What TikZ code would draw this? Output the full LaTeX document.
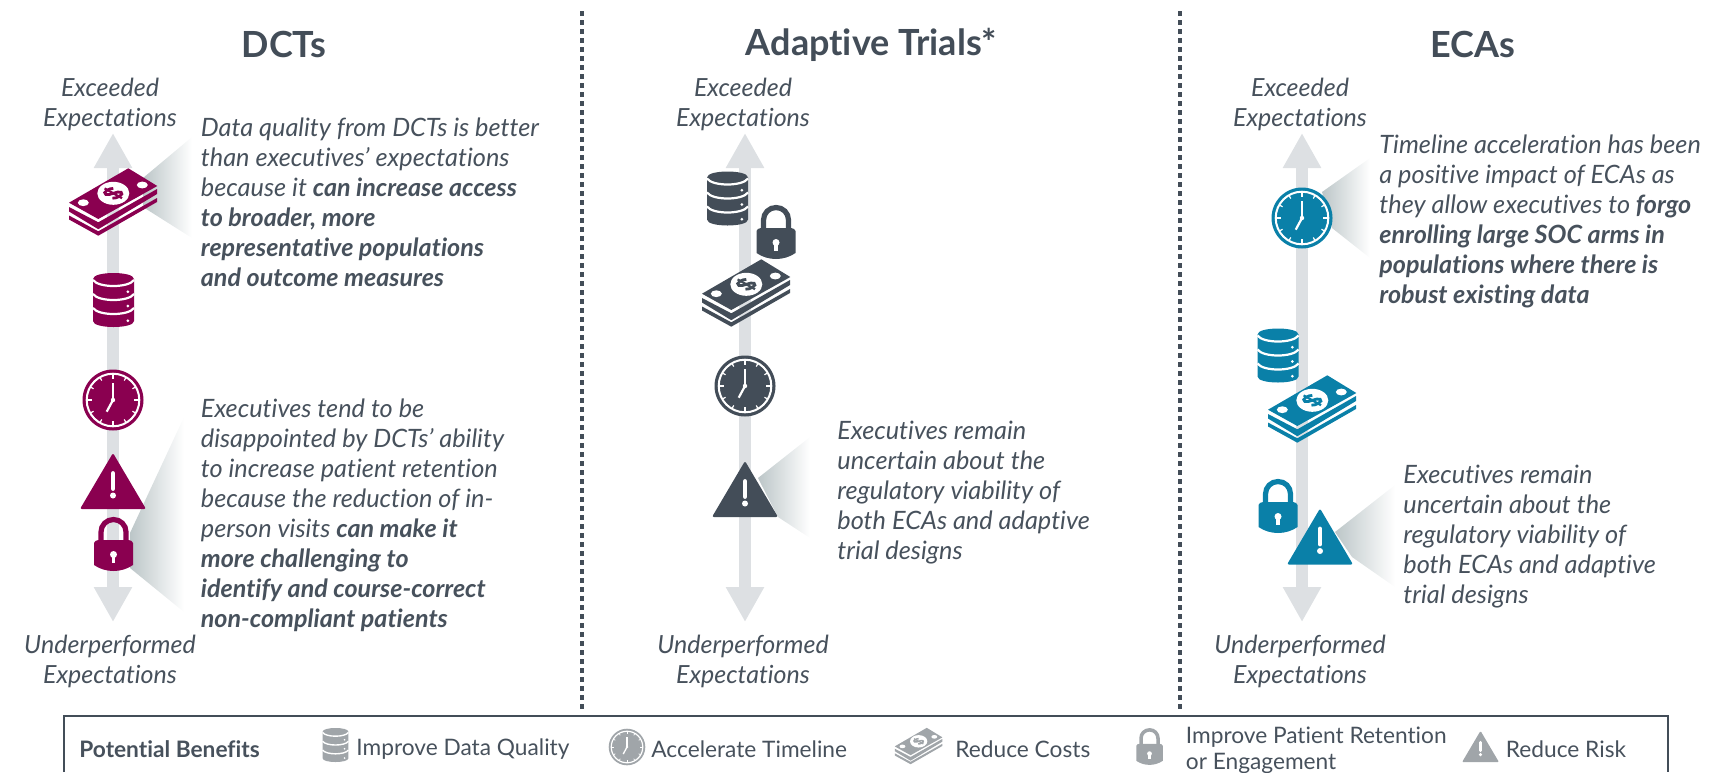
\documentclass[tikz,border=0pt]{standalone}
\usepackage{fontspec}
\setmainfont{Lato}[Ligatures={NoCommon}]
\usetikzlibrary{arrows.meta}
\definecolor{dctc}{HTML}{8A0050}
\definecolor{adac}{HTML}{434D58}
\definecolor{ecac}{HTML}{0A80A8}
\definecolor{legc}{HTML}{A0A5A9}
\definecolor{axisc}{HTML}{DDE0E3}
\definecolor{txtc}{HTML}{47515C}
\definecolor{wedgec}{HTML}{BCC6C8}
\newcommand{\bt}[1]{{\fontsize{12.55}{15}\bfseries\selectfont #1}}
\newcommand{\moneyicon}[4]{\begin{scope}[shift={(#1,#2)},scale=#3]
 \fill[#4] (15.3,-33.7)--(44.3,-16)--(-14.7,17)--(-44,0.7)--cycle;
 \fill[#4] (-44,5)--(-14.7,20.3)--(44,-13)--(44,-8)--(-14.7,27.2)--(-44,9.5)--cycle;
 \fill[#4] (-44,13.5)--(-14.7,29.3)--(44,-4)--(44,0)--(-14.7,33.7)--(-44,17.5)--cycle;
 \fill[white] (-29.7,0.7) ellipse[x radius=5.5,y radius=3.4];
 \fill[white] (29.3,-17) ellipse[x radius=5.5,y radius=3.4];
 \fill[white] (0.3,-8.7) ellipse[x radius=16,y radius=11.5];
 \draw[#4,line width=#3*1.4pt] (.3,-13.6) .. controls (-3.18,-14.09) and (-11.45,-9.44) .. (-7.1,-7.48) .. controls (-3.6,-6) and (4.65,-11.64) .. (8.13,-9.68) .. controls (11.6,-7.72) and (3.78,-3.31) .. (-.57,-3.8);
 \draw[#4,line width=#3*1.1pt] (-8.4,-13.6)--(9,-3.8);
\end{scope}}
\newcommand{\dbicon}[4]{\begin{scope}[shift={(#1,#2)},scale=#3]
 \fill[#4] (-20.5,-21) .. controls (-20.5,-29) and (20.5,-29) .. (20.5,-21) -- (20.5,21) .. controls (20.5,29) and (-20.5,29) .. (-20.5,21) -- cycle;
 \draw[white,line width=#3*1.1pt] (-20.5,-20) .. controls (-15,-12) and (15,-12) .. (20.5,-20);
 \draw[white,line width=#3*1.1pt] (-20.5,-6) .. controls (-15,2) and (15,2) .. (20.5,-6);
 \draw[white,line width=#3*1.1pt] (-20.5,8) .. controls (-15,16) and (15,16) .. (20.5,8);
 \fill[white] (14.4,-8.3) circle[radius=1.5];
 \fill[white] (14.4,6) circle[radius=1.5];
 \fill[white] (14.4,20.7) circle[radius=1.5];
\end{scope}}
\newcommand{\clockicon}[4]{\begin{scope}[shift={(#1,#2)},scale=#3]
 \fill[#4] (0,0) circle[radius=30.5];
 \draw[white,line width=#3*1pt] (0,0) circle[radius=26.3];
 \foreach \a in {0,90,180,270} \draw[white,line width=#3*.8pt] (\a:26)--(\a:21);
 \foreach \a in {30,60,120,150,210,240,300,330} \draw[white,line width=#3*.6pt] (\a:26)--(\a:22.5);
 \draw[white,line width=#3*.9pt] (0,0)--(0,-17.5);
 \draw[white,line width=#3*1.1pt] (0,0)--(-6.3,11.7);
 \fill[white] (0,0) circle[radius=2.2];
\end{scope}}
\newcommand{\warnicon}[4]{\begin{scope}[shift={(#1,#2)},scale=#3]
 \fill[#4,rounded corners=#3*1pt] (0,-28)--(33,28)--(-33,28)--cycle;
 \draw[white,line width=#3*2.4pt,line cap=round] (0,-7.5)--(0,7.5);
 \fill[white] (0,14.5) circle[radius=3];
\end{scope}}
\newcommand{\lockicon}[4]{\begin{scope}[shift={(#1,#2)},scale=#3]
 \fill[#4] (-19.5,-1) .. controls (-19.5,-3) and (-17,-3.5) .. (-15,-4) -- (15,-4) .. controls (17,-3.5) and (19.5,-3) .. (19.5,-1) -- (19.5,21) .. controls (8,29) and (-8,29) .. (-19.5,21) -- cycle;
 \draw[#4,line width=#3*2.6pt] (-12.5,-3) -- (-12.5,-12) .. controls (-12.5,-19) and (-7,-24.5) .. (0,-24.5) .. controls (7,-24.5) and (12.5,-19) .. (12.5,-12) -- (12.5,-3);
 \fill[white] (0,10.5) circle[radius=3.5];
 \fill[white] (-1.6,10.5) rectangle (1.6,18.5);
\end{scope}}
\tikzset{
 axisarrow/.style={axisc,line width=6pt,{Triangle[length=17.5pt,width=18pt]}-{Triangle[length=17.5pt,width=18pt]}},
 sepline/.style={adac,line width=2.3pt,dash pattern=on 2.3pt off 2.2pt},
 titletxt/.style={inner sep=0pt,text=adac,font=\fontsize{18}{22}\bfseries\selectfont},
 endtxt/.style={inner sep=0pt,align=center,text=txtc,font=\fontsize{12.5}{15}\itshape\selectfont},
 bodytxt/.style={inner sep=0pt,anchor=north west,align=left,text=txtc,font=\fontsize{12.65}{15}\itshape\selectfont},
 legtxt/.style={inner sep=0pt,anchor=west,align=left,text=txtc,font=\fontsize{11.35}{13}\selectfont},
 legbold/.style={legtxt,font=\fontsize{11.35}{13}\bfseries\selectfont},
 wedgefill/.style={left color=wedgec,right color=white,draw=none},
}
\begin{document}
\begin{tikzpicture}[x=0.5pt,y=-0.5pt]
\useasboundingbox (0,0) rectangle (1727,772);
% separators
\coordinate (s1t) at (582,11); \coordinate (s1b) at (582,709);
\coordinate (s2t) at (1180,11); \coordinate (s2b) at (1180,709);
\draw[sepline] (s1t)--(s1b);
\draw[sepline] (s2t)--(s2b);
% titles
\node[titletxt] (t1) at (284,44.5) {DCTs};
\node[titletxt] (t2) at (871.5,44.5) {Adaptive Trials*};
\node[titletxt] (t3) at (1472.5,44.5) {ECAs};
% axes
\coordinate (a1t) at (113,133); \coordinate (a1b) at (113,622);
\coordinate (a2t) at (745,133); \coordinate (a2b) at (745,622);
\coordinate (a3t) at (1302,133); \coordinate (a3b) at (1302,622);
\draw[axisarrow] (a1b)--(a1t);
\draw[axisarrow] (a2b)--(a2t);
\draw[axisarrow] (a3b)--(a3t);
% axis ends
\node[endtxt] (e1) at (110,104.5) {Exceeded\\Expectations};
\node[endtxt] (e2) at (743,104.5) {Exceeded\\Expectations};
\node[endtxt] (e3) at (1300,104.5) {Exceeded\\Expectations};
\node[endtxt] (u1) at (110,661.5) {Underperformed\\Expectations};
\node[endtxt] (u2) at (743,661.5) {Underperformed\\Expectations};
\node[endtxt] (u3) at (1300,661.5) {Underperformed\\Expectations};
% wedges
\path[wedgefill] (143,178)--(192,137)--(192,238)--(143,207)--cycle;
\path[wedgefill] (130,533)--(184,417)--(184,612)--(130,568)--cycle;
\path[wedgefill] (758,478)--(810,437)--(810,538)--(778,517)--cycle;
\path[wedgefill] (1322,192)--(1370,158)--(1370,258)--(1332,228)--cycle;
\path[wedgefill] (1335,532)--(1395,485)--(1395,587)--(1352,557)--cycle;
% icons DCT
\moneyicon{113}{202}{1}{dctc}
\dbicon{113.5}{300}{1}{dctc}
\clockicon{113}{400}{1}{dctc}
\warnicon{113}{481}{1}{dctc}
\lockicon{113.5}{544}{1}{dctc}
% icons adaptive
\dbicon{727.5}{198.5}{1}{adac}
\lockicon{776}{232}{1}{adac}
\moneyicon{746}{293}{1}{adac}
\clockicon{745}{386}{1}{adac}
\warnicon{745}{489}{1}{adac}
% icons ECA
\clockicon{1302}{218}{1}{ecac}
\dbicon{1278}{355.5}{1}{ecac}
\moneyicon{1312}{409}{1}{ecac}
\lockicon{1278}{506}{1}{ecac}
\warnicon{1320}{536.5}{1}{ecac}
% body
\node[bodytxt] (b1) at (200.5,117) {Data quality from DCTs is better\\than executives’ expectations\\because it \bt{can increase access}\\\bt{to broader, more}\\\bt{representative populations}\\\bt{and outcome measures}};
\node[bodytxt] (b2) at (200.5,398.5) {Executives tend to be\\disappointed by DCTs’ ability\\to increase patient retention\\because the reduction of in-\\person visits \bt{can make it}\\\bt{more challenging to}\\\bt{identify and course-correct}\\\bt{non-compliant patients}};
\node[bodytxt] (b3) at (837,421) {Executives remain\\uncertain about the\\regulatory viability of\\both ECAs and adaptive\\trial designs};
\node[bodytxt] (b4) at (1379,134) {Timeline acceleration has been\\a positive impact of ECAs as\\they allow executives to \bt{forgo}\\\bt{enrolling large SOC arms in}\\\bt{populations where there is}\\\bt{robust existing data}};
\node[bodytxt] (b5) at (1403,465) {Executives remain\\uncertain about the\\regulatory viability of\\both ECAs and adaptive\\trial designs};
% legend
\coordinate (l1) at (64,772); \coordinate (l2) at (64,716); \coordinate (l3) at (1668,716); \coordinate (l4) at (1668,772);
\draw[adac,line width=.7pt] (l1)--(l2)--(l3)--(l4);
\node[legbold] (lg0) at (79,749) {Potential Benefits};
\dbicon{335.5}{745}{.63}{legc}
\node[legtxt] (lg1) at (356,749.5) {Improve Data Quality};
\clockicon{627}{747}{.6}{legc}
\node[legtxt] (lg2) at (651,749.5) {Accelerate Timeline};
\moneyicon{918.5}{746}{.54}{legc}
\node[legtxt] (lg3) at (955,749.5) {Reduce Costs};
\lockicon{1149.5}{746.5}{.68}{legc}
\node[legtxt] (lg4) at (1185.5,750) {Improve Patient Retention\\or Engagement};
\warnicon{1480.5}{746.5}{.56}{legc}
\node[legtxt] (lg5) at (1505.5,749.5) {Reduce Risk};
\end{tikzpicture}
\end{document}
